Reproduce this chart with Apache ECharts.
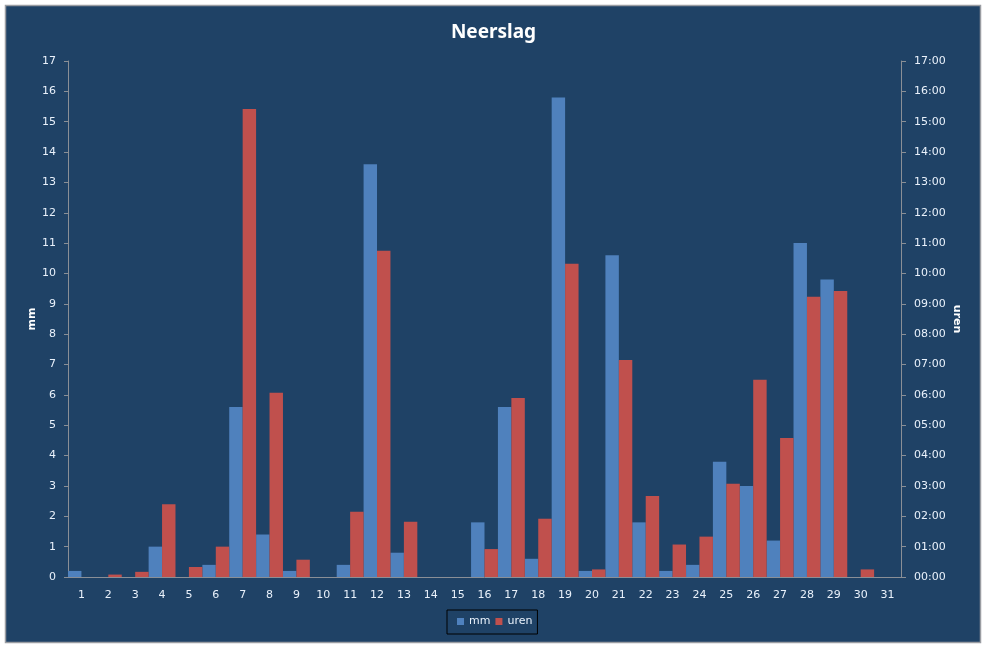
<!DOCTYPE html>
<html>
<head>
<meta charset="utf-8">
<title>Neerslag</title>
<script src="https://cdn.jsdelivr.net/npm/echarts@6/dist/echarts.min.js"></script>
<style>
  html, body { margin: 0; padding: 0; background: #ffffff; }
  #chart { width: 987px; height: 648px; }
</style>
</head>
<body>
<div id="chart"></div>
<script>
  // gegevens
  var dagen = ['1', '2', '3', '4', '5', '6', '7', '8', '9', '10', '11', '12', '13', '14', '15', '16',
    '17', '18', '19', '20', '21', '22', '23', '24', '25', '26', '27', '28', '29', '30', '31'];
  var mm = [0.2, 0, 0, 1.0, 0, 0.4, 5.6, 1.4, 0.2, 0, 0.4, 13.6, 0.8, 0, 0, 1.8,
    5.6, 0.6, 15.8, 0.2, 10.6, 1.8, 0.2, 0.4, 3.8, 3.0, 1.2, 11.0, 9.8, 0, 0];
  // uren neerslag, in uren
  var uren = [0, 0.08, 0.17, 2.4, 0.33, 1.0, 15.42, 6.07, 0.57, 0, 2.15, 10.75, 1.82, 0, 0, 0.92,
    5.9, 1.92, 10.32, 0.25, 7.15, 2.67, 1.07, 1.33, 3.07, 6.5, 4.58, 9.23, 9.42, 0.25, 0];

  var txt = '#e9f1fb';
  var lijn = '#8a8f96';
  var font = 'DejaVu Sans';

  function tijd(v) {
    var h = Math.round(v);
    return (h < 10 ? '0' + h : h) + ':00';
  }

  var chart = echarts.init(document.getElementById('chart'));
  chart.setOption({
    animation: false,
    backgroundColor: '#ffffff',
    graphic: [{
      type: 'rect',
      z: -10,
      silent: true,
      shape: { x: 5.5, y: 5.5, width: 975, height: 637 },
      style: { fill: '#1f4266', stroke: '#9a9da2', lineWidth: 1.5 }
    }],
    title: {
      text: 'Neerslag',
      left: 'center',
      top: 18,
      textStyle: { color: '#ffffff', fontFamily: 'Noto Sans', fontSize: 19, fontWeight: 'bold' }
    },
    legend: {
      data: ['mm', 'uren'],
      left: 447,
      top: 610,
      itemWidth: 7,
      itemHeight: 7,
      itemGap: 5,
      icon: 'rect',
      borderColor: '#000000',
      borderWidth: 1,
      borderRadius: 0,
      padding: [6, 5, 7, 10],
      textStyle: { color: txt, fontFamily: font, fontSize: 11 }
    },
    grid: { left: 68, right: 86, top: 61, bottom: 71 },
    xAxis: {
      type: 'category',
      data: dagen,
      boundaryGap: true,
      axisLine: { lineStyle: { color: lijn, width: 1 } },
      axisTick: { alignWithLabel: false, length: 5, lineStyle: { color: lijn } },
      axisLabel: { color: txt, fontFamily: font, fontSize: 11, margin: 13, interval: 0 },
      splitLine: { show: false }
    },
    yAxis: [{
      type: 'value',
      name: 'mm',
      nameLocation: 'middle',
      nameGap: 30,
      nameRotate: 90,
      nameMoveOverlap: false,
      nameTextStyle: { color: '#ffffff', fontFamily: font, fontSize: 11, fontWeight: 'bold' },
      min: 0,
      max: 17,
      interval: 1,
      axisLine: { show: true, lineStyle: { color: lijn } },
      axisTick: { show: true, length: 4, lineStyle: { color: lijn } },
      axisLabel: { color: txt, fontFamily: font, fontSize: 11, margin: 12 },
      splitLine: { show: false }
    }, {
      type: 'value',
      name: 'uren',
      position: 'right',
      nameLocation: 'middle',
      nameGap: 50,
      nameRotate: -90,
      nameMoveOverlap: false,
      nameTextStyle: { color: '#ffffff', fontFamily: font, fontSize: 11, fontWeight: 'bold' },
      min: 0,
      max: 17,
      interval: 1,
      axisLine: { show: true, lineStyle: { color: lijn } },
      axisTick: { show: true, length: 5, lineStyle: { color: lijn } },
      axisLabel: { color: txt, fontFamily: font, fontSize: 11, margin: 13, formatter: tijd },
      splitLine: { show: false }
    }],
    series: [{
      name: 'mm',
      type: 'bar',
      yAxisIndex: 0,
      data: mm,
      barGap: '0%',
      barCategoryGap: '0%',
      itemStyle: { color: '#4f81bd' }
    }, {
      name: 'uren',
      type: 'bar',
      yAxisIndex: 1,
      data: uren,
      barGap: '0%',
      barCategoryGap: '0%',
      itemStyle: { color: '#c0504d' }
    }]
  });
</script>
</body>
</html>
